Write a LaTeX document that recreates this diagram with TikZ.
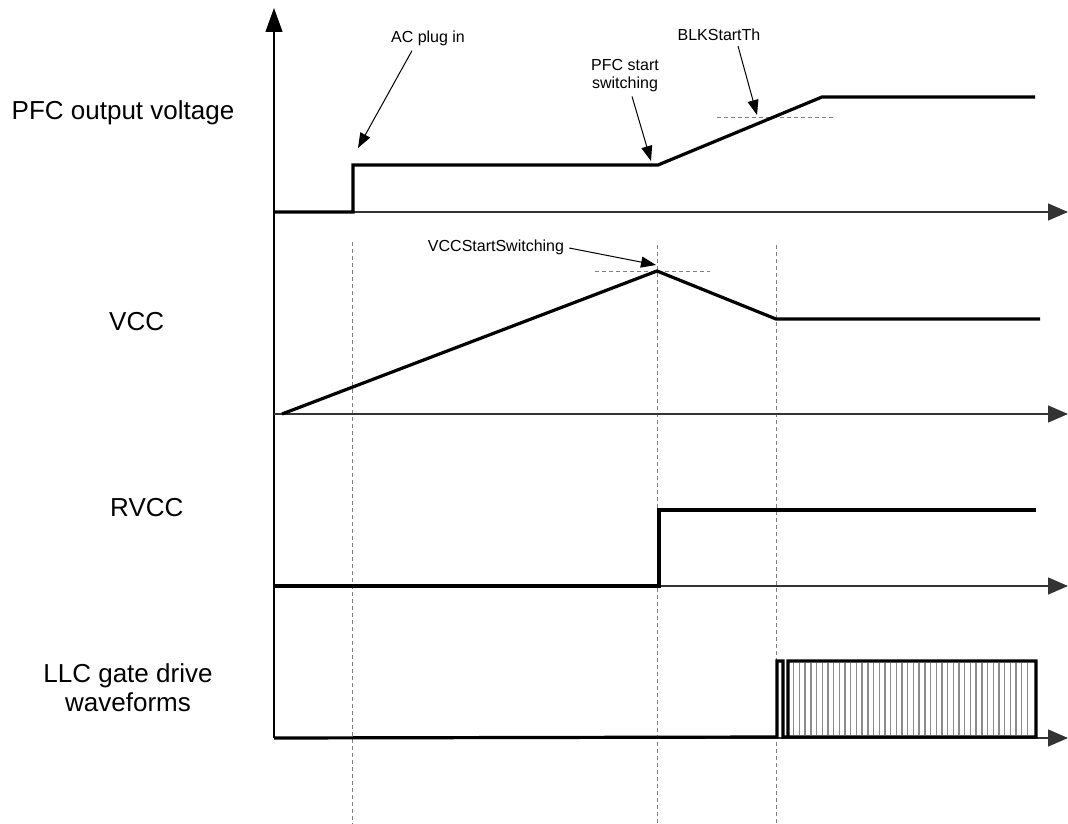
\documentclass[tikz,border=0pt]{standalone}
\usepackage{fontspec}
\setmainfont{Liberation Sans}
\usetikzlibrary{arrows.meta, calc}

\begin{document}
\begin{tikzpicture}[x=1pt, y=-1pt,
  axis/.style={-{Triangle[length=20pt, width=17pt]}, line width=1.3pt, black!80},
  wave/.style={line width=3.2pt, black, line join=miter},
  pulse/.style={line width=1.4pt, black!45},
  guide/.style={dash pattern=on 4pt off 3pt, line width=0.9pt, black!50},
  note/.style={-{Triangle[length=15pt, width=11pt]}, line width=1pt, black},
  sigtext/.style={font=\fontsize{26}{29}\selectfont, align=center, inner sep=0pt},
  notetext/.style={font=\fontsize{16}{18}\selectfont, align=center, inner sep=1pt}]
  \useasboundingbox (0,0) rectangle (1068,824);

  % guides
  \draw[guide] (352,242) -- (352,824);
  \draw[guide] (657,245) -- (657,824);
  \draw[guide] (776,245) -- (776,824);
  \draw[guide] (595,271) -- (710,271);
  \draw[guide] (717,117) -- (833,117);

  % axes
  \coordinate (origin) at (274,738);
  \coordinate (ytip) at (274,8);
  \draw[axis, black, -{Triangle[length=24pt, width=17pt]}] (origin) -- (ytip);
  \foreach \name/\y in {pfc/212, vcc/414, rvcc/586, llc/738} {
    \coordinate (\name-ax) at (274,\y);
    \coordinate (\name-tip) at (1068,\y);
    \draw[axis] (\name-ax) -- (\name-tip);
  }

  % signal labels
  \node[sigtext] (pfclabel) at (123,113) {PFC output voltage};
  \node[sigtext, anchor=west] (vcclabel) at (109,322) {VCC};
  \node[sigtext, anchor=west] (rvcclabel) at (110,508) {RVCC};
  \node[sigtext] (llclabel) at (128,688) {LLC gate drive\\waveforms};

  % PFC output voltage
  \coordinate (acstep) at (353,165);
  \coordinate (pfcstart) at (658,165);
  \coordinate (pfctop) at (822,97);
  \draw[wave] (pfc-ax) -- (353,212) -- (acstep) -- (pfcstart) -- (pfctop) -- (1035,97);

  % VCC
  \coordinate (vccpeak) at (657,271);
  \coordinate (vccdrop) at (776,319);
  \draw[wave] (282,414) -- (vccpeak) -- (vccdrop) -- (1040,319);

  % RVCC
  \draw[wave] (rvcc-ax) -- (659,586) -- (659,510) -- (1036,510);

  % LLC gate drive
  \foreach \x in {793.7,799.4,...,1032} {
    \draw[pulse] (\x,663) -- (\x,735);
  }
  \draw[wave] (llc-ax) -- (777,737) -- (777,661) -- (783,661) -- (783,737)
    -- (788,737) -- (788,661) -- (1036,661) -- (1036,737) -- (788,737);

  % annotations
  \node[notetext] (acnote) at (428,38) {AC plug in};
  \node[notetext] (pfcnote) at (625,76) {PFC start\\switching};
  \node[notetext] (blknote) at (719,35) {BLKStartTh};
  \node[notetext] (vccnote) at (496,247) {VCCStartSwitching};
  \coordinate (actip) at (358,148);
  \coordinate (pfcnotetip) at (651,161);
  \coordinate (blktip) at (757,115);
  \coordinate (vcctip) at (656,265);
  \draw[note] ($(acnote.south)+(-16,4)$) -- (actip);
  \draw[note] ($(pfcnote.south)+(7,3)$) -- (pfcnotetip);
  \draw[note] ($(blknote.south)+(19,4)$) -- (blktip);
  \draw[note] ($(vccnote.east)+(4,1)$) -- (vcctip);
\end{tikzpicture}
\end{document}
